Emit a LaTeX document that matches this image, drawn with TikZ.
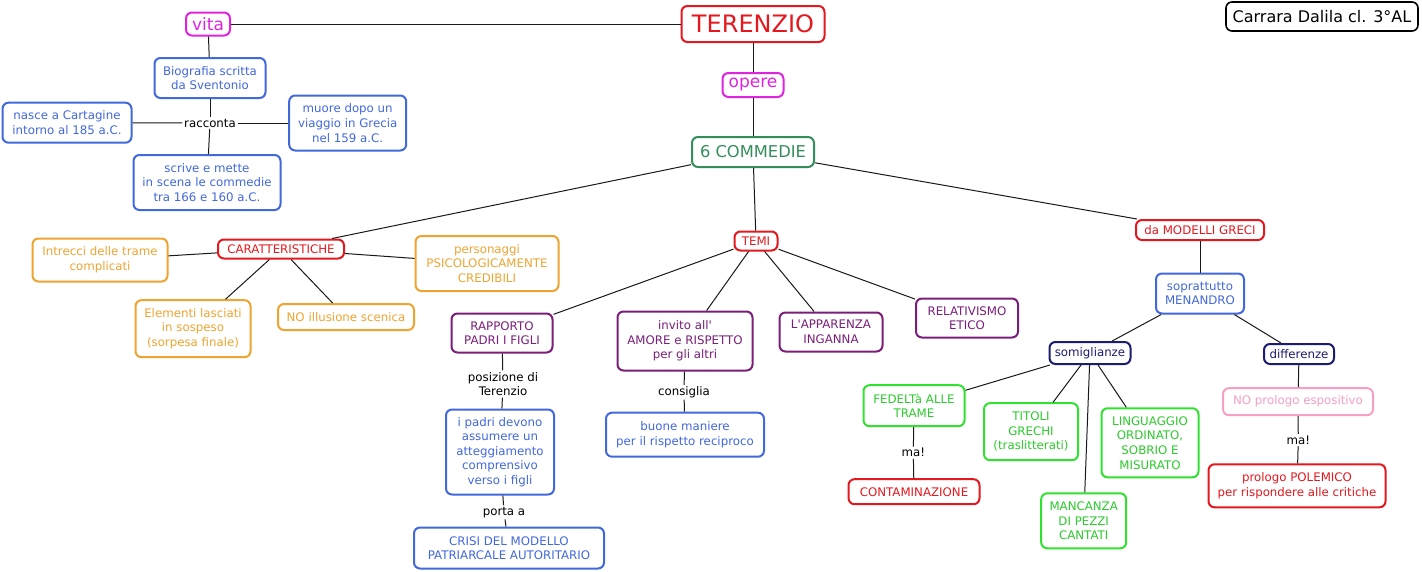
\documentclass[tikz,border=0pt]{standalone}
\usepackage{fontspec}
\setmainfont{DejaVu Sans}
\newcommand\myfn{\fontsize{11.8}{14.6}\selectfont}
\definecolor{cRed}{RGB}{228,24,30}
\definecolor{cMag}{RGB}{222,36,222}
\definecolor{cGrn}{RGB}{52,142,92}
\definecolor{cBlu}{RGB}{66,104,222}
\definecolor{cOra}{RGB}{240,164,48}
\definecolor{cPur}{RGB}{122,30,122}
\definecolor{cNav}{RGB}{28,28,112}
\definecolor{cLgr}{RGB}{48,226,48}
\definecolor{cPnk}{RGB}{245,160,196}
\tikzset{
  bx/.style={draw, rounded corners=6pt, line width=2pt, align=center, inner sep=2pt, font=\myfn},
  sz/.style 2 args={minimum width=#1pt-2pt, minimum height=#2pt-2pt},
  rdb/.style={bx, draw=cRed, text=cRed},
  mgb/.style={bx, draw=cMag, text=cMag},
  grb/.style={bx, draw=cGrn, text=cGrn},
  blb/.style={bx, draw=cBlu, text=cBlu},
  orb/.style={bx, draw=cOra, text=cOra},
  pub/.style={bx, draw=cPur, text=cPur},
  nvb/.style={bx, draw=cNav, text=cNav},
  lgb/.style={bx, draw=cLgr, text=cLgr!90!black},
  pkb/.style={bx, draw=cPnk, text=cPnk},
  bkb/.style={bx, draw=black, text=black, line width=1.6pt},
  lbl/.style={inner sep=1.5pt, align=center, font=\myfn, text=black},
  cn/.style={line width=1pt, draw=black!90}
}
\begin{document}
\begin{tikzpicture}[x=1pt,y=-1pt]
\useasboundingbox[fill=white] (0,0) rectangle (1422,571);
% top
\node[rdb, sz={145}{38}, font=\fontsize{24}{28}\selectfont] (ter) at (753,24) {TERENZIO};
\node[mgb, sz={46}{25}, font=\fontsize{17}{20}\selectfont] (vita) at (208,24) {vita};
\node[mgb, sz={63}{26}, font=\fontsize{17}{20}\selectfont] (opere) at (753,85) {opere};
\node[grb, sz={124}{32}, font=\fontsize{16.3}{20}\selectfont] (comm) at (753,152) {6 COMMEDIE};
\node[bkb, sz={194}{31}, font=\fontsize{16}{20}\selectfont] (carrara) at (1322,16.5) {Carrara Dalila cl. 3°AL};
% vita
\node[blb, sz={113}{42}] (bio) at (210,78) {Biografia scritta\\da Sventonio};
\node[lbl] (racc) at (210,123) {racconta};
\node[blb, sz={131}{42}] (nasce) at (67,122.7) {nasce a Cartagine\\intorno al 185 a.C.};
\node[blb, sz={119}{57}] (muore) at (347.7,123) {muore dopo un\\viaggio in Grecia\\nel 159 a.C.};
\node[blb, sz={149}{57}] (scrive) at (207,182.5) {scrive e mette\\in scena le commedie\\tra 166 e 160 a.C.};
% caratteristiche
\node[rdb, sz={128}{21}] (car) at (281,249) {CARATTERISTICHE};
\node[orb, sz={137}{45}] (intr) at (100,260) {Intrecci delle trame\\complicati};
\node[orb, sz={145}{57}] (pers) at (487,263.5) {personaggi\\PSICOLOGICAMENTE\\CREDIBILI};
\node[orb, sz={117}{59}] (elem) at (193,328.7) {Elementi lasciati\\in sospeso\\(sorpesa finale)};
\node[orb, sz={138}{28}] (noill) at (346,317) {NO illusione scenica};
% temi
\node[rdb, sz={45}{21}] (temi) at (756,241) {TEMI};
\node[pub, sz={103}{41}] (rapp) at (502,333) {RAPPORTO\\PADRI I FIGLI};
\node[pub, sz={137}{61}] (invito) at (685,341) {invito all\textquotesingle\\AMORE e RISPETTO\\per gli altri};
\node[pub, sz={105}{41}] (appa) at (831,332) {L\textquotesingle APPARENZA\\INGANNA};
\node[pub, sz={104}{41}] (rela) at (967,318) {RELATIVISMO\\ETICO};
\node[lbl] (posiz) at (503,384) {posizione di\\Terenzio};
\node[blb, sz={110}{87}] (padri) at (500,452) {i padri devono\\assumere un\\atteggiamento\\comprensivo\\verso i figli};
\node[lbl] (porta) at (504,512.3) {porta a};
\node[blb, sz={192}{43}] (crisi) at (509,548) {CRISI DEL MODELLO\\PATRIARCALE AUTORITARIO};
\node[lbl] (consi) at (684,392.3) {consiglia};
\node[blb, sz={160}{46}] (buone) at (685,434.7) {buone maniere\\per il rispetto reciproco};
% modelli greci
\node[rdb, sz={130}{22}] (mod) at (1200,230) {da MODELLI GRECI};
\node[blb, sz={90}{42}] (men) at (1200,293.5) {soprattutto\\MENANDRO};
\node[nvb, sz={83}{24}] (somi) at (1090,353) {somiglianze};
\node[nvb, sz={72}{22}] (diff) at (1299,354) {differenze};
\node[lgb, sz={103}{43}] (fede) at (914,405.7) {FEDELTà ALLE\\TRAME};
\node[lbl] (ma1) at (913.3,452.7) {ma!};
\node[rdb, sz={133}{27}] (cont) at (914,491.7) {CONTAMINAZIONE};
\node[lgb, sz={96}{59}] (tito) at (1031,431.7) {TITOLI\\GRECHI\\(traslitterati)};
\node[lgb, sz={87}{57}] (manc) at (1083.7,520.8) {MANCANZA\\DI PEZZI\\CANTATI};
\node[lgb, sz={99}{71}] (ling) at (1150,442.8) {LINGUAGGIO\\ORDINATO,\\SOBRIO E\\MISURATO};
\node[pkb, sz={152}{29}] (nopro) at (1298,401.7) {NO prologo espositivo};
\node[lbl] (ma2) at (1298.3,440) {ma!};
\node[rdb, sz={179}{45}] (pole) at (1297,485.8) {prologo POLEMICO\\per rispondere alle critiche};
% connectors
\draw[cn] (vita) -- (ter);
\draw[cn] (ter) -- (opere);
\draw[cn] (opere) -- (comm);
\draw[cn] (vita) -- (bio);
\draw[cn] (bio) -- (racc);
\draw[cn] (racc) -- (nasce);
\draw[cn] (racc) -- (muore);
\draw[cn] (racc) -- (scrive);
\draw[cn] (comm) -- (car);
\draw[cn] (comm) -- (temi);
\draw[cn] (comm) -- (mod);
\draw[cn] (car) -- (intr);
\draw[cn] (car) -- (elem);
\draw[cn] (car) -- (noill);
\draw[cn] (car) -- (pers);
\draw[cn] (temi) -- (rapp);
\draw[cn] (temi) -- (invito);
\draw[cn] (temi) -- (appa);
\draw[cn] (temi) -- (rela);
\draw[cn] (rapp) -- (posiz);
\draw[cn] (posiz) -- (padri);
\draw[cn] (padri) -- (porta);
\draw[cn] (porta) -- (crisi);
\draw[cn] (invito) -- (consi);
\draw[cn] (consi) -- (buone);
\draw[cn] (mod) -- (men);
\draw[cn] (men) -- (somi);
\draw[cn] (men) -- (diff);
\draw[cn] (somi) -- (fede);
\draw[cn] (somi) -- (tito);
\draw[cn] (somi) -- (manc);
\draw[cn] (somi) -- (ling);
\draw[cn] (fede) -- (ma1);
\draw[cn] (ma1) -- (cont);
\draw[cn] (diff) -- (nopro);
\draw[cn] (nopro) -- (ma2);
\draw[cn] (ma2) -- (pole);
\end{tikzpicture}
\end{document}
